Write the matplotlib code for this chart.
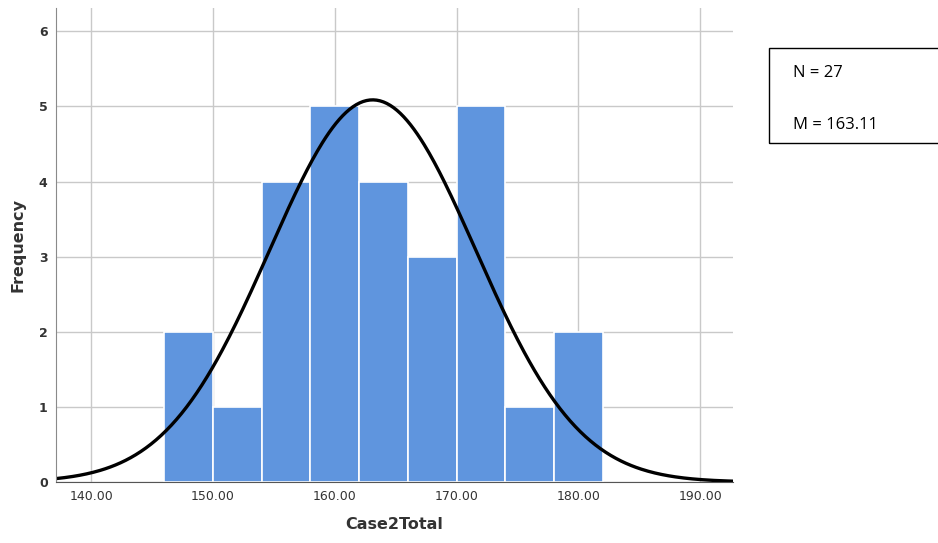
import numpy as np
import matplotlib
matplotlib.use("Agg")
from matplotlib import pyplot as plt
from matplotlib.patches import Rectangle

# histogram of Case2Total, bins of width 4
bin_edges = [146, 150, 154, 158, 162, 166, 170, 174, 178, 182]
counts = [2, 1, 4, 5, 4, 3, 5, 1, 2]
n_cases = 27
mean_total = 163.11
sd_total = 8.47

x_ticks = [140, 150, 160, 170, 180, 190]
y_ticks = [0, 1, 2, 3, 4, 5, 6]

BAR_COLOUR = "#5f95de"
GRID_COLOUR = "#c9c9c9"

fig = plt.figure(figsize=(9.38, 5.43), dpi=100)
ax = fig.add_axes([0.0597, 0.1123, 0.7217, 0.873])

widths = np.diff(bin_edges)
ax.bar(bin_edges[:-1], counts, width=widths, align="edge",
       color=BAR_COLOUR, edgecolor="white", linewidth=1.2, zorder=2)

# normal curve scaled to counts
xs = np.linspace(137.1, 192.7, 400)
bw = widths[0]
ys = n_cases * bw / (sd_total * np.sqrt(2 * np.pi)) * np.exp(-0.5 * ((xs - mean_total) / sd_total) ** 2)
ax.plot(xs, ys, color="black", linewidth=2.4, zorder=3, solid_capstyle="round")

ax.set_xlim(137.1, 192.7)
ax.set_ylim(0, 6.31)
ax.set_xticks(x_ticks)
ax.set_xticklabels([f"{t:.2f}" for t in x_ticks])
ax.set_yticks(y_ticks)
ax.grid(True, color=GRID_COLOUR, linewidth=1.0, zorder=0)
ax.set_axisbelow(True)
ax.tick_params(length=0, labelsize=9, colors="#333333", pad=6)
for lbl in ax.get_yticklabels():
    lbl.set_fontweight("bold")

for side in ("top", "right"):
    ax.spines[side].set_visible(False)
ax.spines["left"].set_color("#8a8a8a")
ax.spines["bottom"].set_color("#555555")
ax.spines["left"].set_zorder(4)
ax.spines["bottom"].set_zorder(4)

ax.set_xlabel("Case2Total", fontsize=11.5, fontweight="bold", color="#333333", labelpad=10)
ax.set_ylabel("Frequency", fontsize=11.5, fontweight="bold", color="#333333", labelpad=10)

# summary box on the right
fig.patches.append(Rectangle((769 / 938, 1 - 143 / 543), 0.25, 95 / 543,
                             transform=fig.transFigure, fill=False,
                             edgecolor="black", linewidth=1.0))
fig.text(793 / 938, 1 - 73 / 543, f"N = {n_cases}", fontsize=12,
         family="Open Sans", va="center", ha="left")
fig.text(793 / 938, 1 - 125 / 543, f"M = {mean_total:.2f}", fontsize=12,
         family="Open Sans", va="center", ha="left")

fig.savefig("out.png", dpi=100)
